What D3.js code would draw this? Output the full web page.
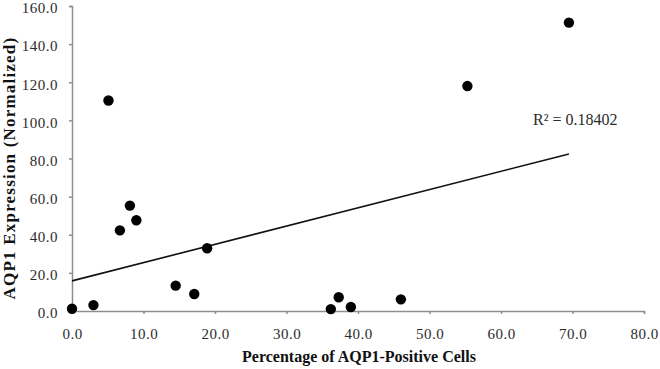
<!DOCTYPE html>
<html lang="en">
  <head>
    <meta charset="UTF-8" />
    <title>AQP1 scatter</title>
    <script src="https://cdn.jsdelivr.net/npm/d3@7"></script>
    <style>
      body { margin: 0; background: #fff; }
      svg { display: block; }
      text { font-family: "Liberation Serif", "Times New Roman", serif; }
    </style>
  </head>
  <body>
    <svg width="660" height="369"></svg>
    <script>
      // values
      const pctPositive = [0.0, 3.0, 5.1, 6.7, 8.1, 9.0, 14.5, 17.1, 18.9, 36.2, 37.3, 39.0, 46.0, 55.3, 69.5];
      const aqp1Expr = [1.2, 3.1, 110.4, 42.3, 55.3, 47.6, 13.3, 8.9, 32.9, 1.0, 7.2, 2.1, 6.1, 118.0, 151.3];
      const xTicks = [0, 10, 20, 30, 40, 50, 60, 70, 80];
      const yTicks = [0, 20, 40, 60, 80, 100, 120, 140, 160];
      const trend = { intercept: 15.8, slope: 0.958 };
      const rSquared = "0.18402";

      const svg = d3.select("svg");
      const x = d3.scaleLinear().domain([0, 80]).range([72, 644]);
      const y = d3.scaleLinear().domain([0, 160]).range([311, 6]);

      const xAxis = d3.axisBottom(x).tickValues(xTicks).tickSize(3).tickPadding(14)
        .tickFormat(d3.format(".1f"));
      const yAxis = d3.axisLeft(y).tickValues(yTicks).tickSize(3).tickPadding(11)
        .tickFormat(d3.format(".1f"));

      const gx = svg.append("g").attr("transform", `translate(0,${y(0)})`).call(xAxis);
      const gy = svg.append("g").attr("transform", `translate(${x(0)},0)`).call(yAxis);

      [gx, gy].forEach(g => {
        g.selectAll(".domain").attr("stroke", "#8e8e8e").attr("stroke-width", 1.5);
        g.selectAll(".tick line").attr("stroke", "#8e8e8e").attr("stroke-width", 1.5);
        g.selectAll(".tick text")
          .attr("fill", "#2b2b2b")
          .style("font-size", "15px")
          .style("letter-spacing", "0.5px");
      });
      gy.selectAll(".tick text").attr("dy", "0.45em");

      // trendline
      const xr = d3.extent(pctPositive);
      svg.append("line")
        .attr("x1", x(xr[0])).attr("y1", y(trend.intercept + trend.slope * xr[0]))
        .attr("x2", x(xr[1])).attr("y2", y(trend.intercept + trend.slope * xr[1]))
        .attr("stroke", "#111").attr("stroke-width", 1.6);

      svg.selectAll("circle")
        .data(pctPositive)
        .join("circle")
        .attr("cx", d => x(d))
        .attr("cy", (d, i) => y(aqp1Expr[i]))
        .attr("r", 5.2)
        .attr("fill", "#000");

      svg.append("text")
        .attr("x", 533).attr("y", 125)
        .attr("fill", "#2b2b2b")
        .style("font-size", "16px")
        .text("R\u00b2 = " + rSquared);

      svg.append("text")
        .attr("x", 359).attr("y", 362)
        .attr("text-anchor", "middle")
        .attr("fill", "#111")
        .style("font-size", "16px").style("font-weight", "bold")
        .text("Percentage of AQP1-Positive Cells");

      svg.append("text")
        .attr("transform", "translate(15,168) rotate(-90)")
        .attr("text-anchor", "middle")
        .attr("fill", "#111")
        .style("font-size", "17px").style("font-weight", "bold")
        .style("letter-spacing", "1.2px")
        .text("AQP1 Expression (Normalized)");
    </script>
  </body>
</html>
